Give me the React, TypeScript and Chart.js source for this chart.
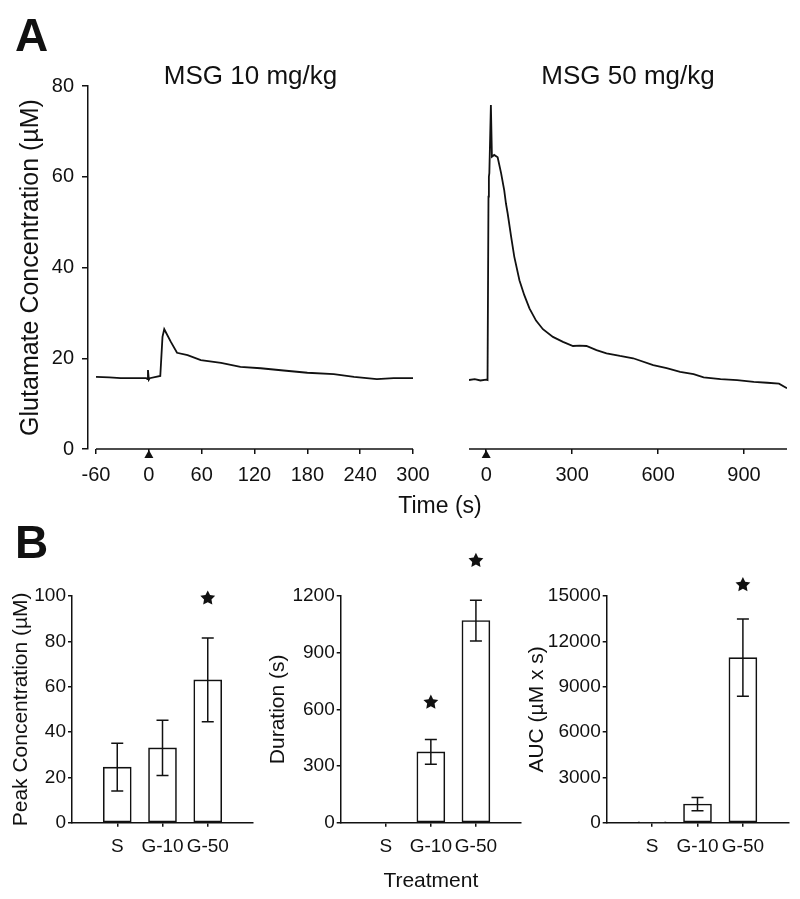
import React, { useEffect, useRef } from 'react';
import { Chart, registerables } from 'chart.js';
Chart.register(...registerables);

const FONT = "'Liberation Sans', Arial, Helvetica, sans-serif";
const INK = '#111111';

// ---------- Panel A data ----------
const concTicks = [0, 20, 40, 60, 80];
const msg10TimeTicks = [-60, 0, 60, 120, 180, 240, 300];
const msg10Time = [-60, -45, -32, -15, -3, -1.5, -1, 0, 1, 13, 15.5, 17.5, 25, 32, 44, 59, 82, 104, 127, 153, 180, 210, 233, 259, 278, 300];
const msg10Conc = [15.9, 15.8, 15.6, 15.6, 15.6, 15.4, 17.4, 15.3, 15.6, 16.1, 24.7, 26.4, 23.6, 21.2, 20.7, 19.6, 19.0, 18.1, 17.8, 17.3, 16.8, 16.5, 15.9, 15.4, 15.6, 15.6];

const msg50TimeTicks = [0, 300, 600, 900];
const msg50Time = [-60, -40, -20, 0, 4.7, 8, 9.4, 11, 16.4, 20, 28, 40, 52, 63, 69, 75, 87, 98, 116, 133, 151, 174, 198, 233, 268, 303, 326, 350, 385, 420, 467, 513, 583, 630, 677, 724, 759, 818, 876, 934, 981, 1022, 1050];
const msg50Conc = [15.2, 15.4, 15.1, 15.3, 15.2, 55.6, 60, 60.8, 75.8, 64.4, 64.8, 64.3, 60.8, 57.0, 54.1, 51.9, 46.8, 42.4, 37.2, 33.9, 31.0, 28.3, 26.4, 24.7, 23.6, 22.7, 22.8, 22.7, 21.8, 21.1, 20.5, 20.0, 18.5, 17.8, 17.0, 16.5, 15.8, 15.4, 15.2, 14.8, 14.6, 14.4, 13.4];

// ---------- Panel B data ----------
const treatments = ['S', 'G-10', 'G-50'];
const peakMean = [24.5, 33, 63];
const peakSem = [10.5, 12.2, 18.5];
const peakStars = [null, null, 99];
const peakTicks = [0, 20, 40, 60, 80, 100];

const durationMean = [0, 375, 1070];
const durationSem = [0, 65, 108];
const durationStars = [null, 637, 1387];
const durationTicks = [0, 300, 600, 900, 1200];

const aucMean = [60, 1235, 10920];
const aucSem = [0, 440, 2550];
const aucStars = [null, null, 15735];
const aucTicks = [0, 3000, 6000, 9000, 12000, 15000];

type Box = { left: number; top: number; width: number; height: number };

function drawStar(ctx: CanvasRenderingContext2D, cx: number, cy: number, R: number, r: number) {
  ctx.beginPath();
  for (let k = 0; k < 10; k++) {
    const a = -Math.PI / 2 + (k * Math.PI) / 5;
    const rad = k % 2 === 0 ? R : r;
    const x = cx + rad * Math.cos(a);
    const y = cy + rad * Math.sin(a);
    if (k === 0) ctx.moveTo(x, y);
    else ctx.lineTo(x, y);
  }
  ctx.closePath();
  ctx.fill();
}

type LineSpec = {
  time: number[];
  conc: number[];
  ticks: number[];
  xMin: number;
  xMax: number;
  axisFrom: number;
  axisTo: number;
  title: string;
  showY: boolean;
  padL: number;
  padR: number;
  xH: number;
};

function buildLine(canvas: HTMLCanvasElement, p: LineSpec) {
  const axisPlugin = {
    id: 'timeAxis',
    afterDraw(chart: any) {
      const { ctx, chartArea } = chart;
      const xs = chart.scales.x;
      const y0 = chartArea.bottom;
      ctx.save();
      ctx.strokeStyle = INK;
      ctx.lineWidth = 1.5;
      ctx.beginPath();
      ctx.moveTo(xs.getPixelForValue(p.axisFrom), y0);
      ctx.lineTo(xs.getPixelForValue(p.axisTo), y0);
      ctx.stroke();
      const x0 = xs.getPixelForValue(0);
      ctx.fillStyle = INK;
      ctx.beginPath();
      ctx.moveTo(x0, y0 + 1);
      ctx.lineTo(x0 + 4.5, y0 + 9);
      ctx.lineTo(x0 - 4.5, y0 + 9);
      ctx.closePath();
      ctx.fill();
      ctx.restore();
    },
  };
  return new Chart(canvas, {
    type: 'line',
    data: {
      datasets: [
        {
          data: p.time.map((t, i) => ({ x: t, y: p.conc[i] })),
          borderColor: INK,
          borderWidth: 1.8,
          pointRadius: 0,
          tension: 0,
          fill: false,
        },
      ],
    },
    options: {
      animation: false,
      responsive: false,
      layout: { padding: { left: p.padL, right: p.padR, top: 0, bottom: 0 } },
      plugins: {
        legend: { display: false },
        tooltip: { enabled: false },
        title: {
          display: true,
          text: p.title,
          color: INK,
          fullSize: false,
          font: { family: FONT, size: 26, weight: 'normal', lineHeight: 0.5 },
          padding: { top: 70, bottom: 3 },
        },
      },
      scales: {
        x: {
          type: 'linear',
          min: p.xMin,
          max: p.xMax,
          afterBuildTicks: (s: any) => {
            s.ticks = p.ticks.map((v) => ({ value: v }));
          },
          afterFit: (s: any) => {
            s.height = p.xH;
          },
          ticks: {
            font: { family: FONT, size: 20 },
            color: INK,
            padding: 9,
            autoSkip: false,
            maxRotation: 0,
            callback: (v: any) => String(v),
          },
          grid: { drawOnChartArea: false, tickLength: 5, color: INK, lineWidth: 1.5 },
          border: { display: false },
        },
        y: {
          display: p.showY,
          min: 0,
          max: 80,
          afterBuildTicks: (s: any) => {
            s.ticks = concTicks.map((v) => ({ value: v }));
          },
          afterFit: (s: any) => {
            s.width = p.showY ? 88 : 0;
          },
          ticks: {
            font: { family: FONT, size: 20 },
            color: INK,
            padding: 8,
            callback: (v: any) => String(v),
          },
          grid: { drawOnChartArea: false, tickLength: 6, color: INK, lineWidth: 1.5 },
          border: { display: true, color: INK, width: 1.5 },
          title: {
            display: true,
            text: 'Glutamate Concentration (µM)',
            color: INK,
            font: { family: FONT, size: 25 },
            padding: { top: 16, bottom: 0 },
          },
        },
      },
    } as any,
    plugins: [axisPlugin],
  } as any);
}

type BarSpec = {
  means: number[];
  errs: number[];
  stars: (number | null)[];
  ticks: number[];
  yTitle: string;
  xTitle?: string;
  yW: number;
  padR: number;
  titlePad: number;
};

function buildBar(canvas: HTMLCanvasElement, p: BarSpec) {
  const labels = ['', ...treatments, ''];
  const data = [null, ...p.means, null];
  const marks = {
    id: 'marks',
    afterDatasetsDraw(chart: any) {
      const { ctx } = chart;
      const xs = chart.scales.x;
      const ys = chart.scales.y;
      ctx.save();
      ctx.strokeStyle = INK;
      ctx.fillStyle = INK;
      ctx.lineWidth = 1.5;
      p.means.forEach((m, i) => {
        const px = xs.getPixelForValue(i + 1);
        const e = p.errs[i];
        if (e > 0) {
          const yt = ys.getPixelForValue(m + e);
          const yb = ys.getPixelForValue(m - e);
          ctx.beginPath();
          ctx.moveTo(px, yt);
          ctx.lineTo(px, yb);
          ctx.moveTo(px - 6, yt);
          ctx.lineTo(px + 6, yt);
          ctx.moveTo(px - 6, yb);
          ctx.lineTo(px + 6, yb);
          ctx.stroke();
        }
        const s = p.stars[i];
        if (s != null) drawStar(ctx, px, ys.getPixelForValue(s), 7.8, 3.9);
      });
      ctx.restore();
    },
  };
  const yMax = p.ticks[p.ticks.length - 1];
  return new Chart(canvas, {
    type: 'bar',
    data: {
      labels,
      datasets: [
        {
          data,
          backgroundColor: '#ffffff',
          borderColor: INK,
          borderWidth: 1.6,
          barThickness: 28,
          borderSkipped: false,
        },
      ],
    },
    options: {
      animation: false,
      responsive: false,
      layout: { padding: { top: 56, right: p.padR, left: 0, bottom: 0 } },
      plugins: { legend: { display: false }, tooltip: { enabled: false } },
      scales: {
        x: {
          type: 'category',
          offset: false,
          afterFit: (s: any) => {
            s.height = 76.3;
          },
          grid: {
            offset: false,
            drawOnChartArea: false,
            tickLength: 4,
            lineWidth: 1.5,
            color: (c: any) => (c.index === 0 || c.index === 4 ? 'rgba(0,0,0,0)' : INK),
          },
          border: { display: true, color: INK, width: 1.5 },
          ticks: {
            font: { family: FONT, size: 19 },
            color: INK,
            padding: 9,
            autoSkip: false,
            maxRotation: 0,
          },
          title: p.xTitle
            ? {
                display: true,
                text: p.xTitle,
                color: INK,
                font: { family: FONT, size: 21 },
                padding: { top: 0, bottom: 5 },
              }
            : { display: false },
        },
        y: {
          min: 0,
          max: yMax,
          afterBuildTicks: (s: any) => {
            s.ticks = p.ticks.map((v) => ({ value: v }));
          },
          afterFit: (s: any) => {
            s.width = p.yW;
          },
          ticks: {
            font: { family: FONT, size: 19 },
            color: INK,
            padding: 2,
            callback: (v: any) => String(v),
          },
          grid: { drawOnChartArea: false, tickLength: 4, color: INK, lineWidth: 1.5 },
          border: { display: true, color: INK, width: 1.5 },
          title: {
            display: true,
            text: p.yTitle,
            color: INK,
            font: { family: FONT, size: 21 },
            padding: { top: p.titlePad, bottom: 0 },
          },
        },
      },
    } as any,
    plugins: [marks],
  } as any);
}

const buildMsg10 = (c: HTMLCanvasElement) =>
  buildLine(c, {
    time: msg10Time,
    conc: msg10Conc,
    ticks: msg10TimeTicks,
    xMin: -69.1,
    xMax: 300,
    axisFrom: -60,
    axisTo: 300,
    title: 'MSG 10 mg/kg',
    showY: true,
    padL: 0,
    padR: 27,
    xH: 71,
  });

const buildMsg50 = (c: HTMLCanvasElement) =>
  buildLine(c, {
    time: msg50Time,
    conc: msg50Conc,
    ticks: msg50TimeTicks,
    xMin: -60,
    xMax: 1050,
    axisFrom: -60,
    axisTo: 1050,
    title: 'MSG 50 mg/kg',
    showY: false,
    padL: 29,
    padR: 13,
    xH: 71,
  });

const buildPeak = (c: HTMLCanvasElement) =>
  buildBar(c, {
    means: peakMean,
    errs: peakSem,
    stars: peakStars,
    ticks: peakTicks,
    yTitle: 'Peak Concentration (µM)',
    yW: 72,
    padR: 9,
    titlePad: 8.4,
  });

const buildDuration = (c: HTMLCanvasElement) =>
  buildBar(c, {
    means: durationMean,
    errs: durationSem,
    stars: durationStars,
    ticks: durationTicks,
    yTitle: 'Duration (s)',
    xTitle: 'Treatment',
    yW: 78.7,
    padR: 7.3,
    titlePad: 3.4,
  });

const buildAuc = (c: HTMLCanvasElement) =>
  buildBar(c, {
    means: aucMean,
    errs: aucSem,
    stars: aucStars,
    ticks: aucTicks,
    yTitle: 'AUC (µM x s)',
    yW: 86.7,
    padR: 11.7,
    titlePad: 4.4,
  });

function ChartCanvas({ box, build }: { box: Box; build: (c: HTMLCanvasElement) => Chart }) {
  const ref = useRef<HTMLCanvasElement | null>(null);
  useEffect(() => {
    if (!ref.current) return;
    const chart = build(ref.current);
    return () => chart.destroy();
  }, [build]);
  return (
    <canvas
      ref={ref}
      width={box.width}
      height={box.height}
      style={{ position: 'absolute', left: box.left, top: box.top, width: box.width, height: box.height, display: 'block' }}
    />
  );
}

export default function App() {
  const label = (text: string, style: React.CSSProperties) => (
    <div style={{ position: 'absolute', fontFamily: FONT, color: INK, lineHeight: 1, whiteSpace: 'nowrap', ...style }}>{text}</div>
  );
  return (
    <div style={{ position: 'absolute', left: 0, top: 0, width: 800, height: 899, background: '#ffffff', overflow: 'hidden' }}>
      <ChartCanvas box={{ left: 0, top: 0, width: 440, height: 520 }} build={buildMsg10} />
      <ChartCanvas box={{ left: 440, top: 0, width: 360, height: 520 }} build={buildMsg50} />
      <ChartCanvas box={{ left: 0, top: 540, width: 262, height: 359 }} build={buildPeak} />
      <ChartCanvas box={{ left: 262, top: 540, width: 268, height: 359 }} build={buildDuration} />
      <ChartCanvas box={{ left: 520, top: 540, width: 280, height: 359 }} build={buildAuc} />
      {label('A', { left: 15, top: 12, fontSize: 46, fontWeight: 'bold' })}
      {label('B', { left: 15, top: 519, fontSize: 46, fontWeight: 'bold' })}
      {label('Time (s)', { left: 340, top: 494, width: 200, textAlign: 'center', fontSize: 23 })}
    </div>
  );
}
